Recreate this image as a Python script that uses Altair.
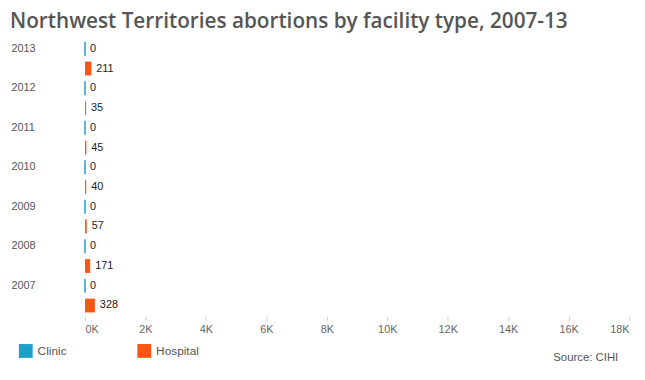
import altair as alt
import pandas as pd

years = ["2013", "2012", "2011", "2010", "2009", "2008", "2007"]
clinic = [0, 0, 0, 0, 0, 0, 0]
hospital = [211, 35, 45, 40, 57, 171, 328]
types = ["Clinic", "Hospital"]
colors = ["#1ba1c9", "#ff5512"]
x_ticks = [0, 2000, 4000, 6000, 8000, 10000, 12000, 14000, 16000, 18000]

rows = []
for y, c, h in zip(years, clinic, hospital):
    rows.append({"year": y, "type": "Clinic", "value": c})
    rows.append({"year": y, "type": "Hospital", "value": h})
df = pd.DataFrame(rows)

FONT = "Liberation Sans"
W, H = 551, 280

base = alt.Chart(df).encode(
    y=alt.Y("year:N", sort=years, title=None,
            scale=alt.Scale(paddingInner=0, paddingOuter=0),
            axis=alt.Axis(ticks=False, domain=False, labelAlign="left",
                          labelPadding=75, labelOffset=-10, labelFontSize=11,
                          labelColor="#555555", labelFont=FONT,
                          labelBaseline="middle")),
    yOffset=alt.YOffset("type:N", sort=types,
                        scale=alt.Scale(paddingInner=0.3, paddingOuter=0.15)),
)

bars = base.mark_bar().encode(
    x=alt.X("value:Q", title=None,
            scale=alt.Scale(domain=[0, 18000], nice=False),
            axis=alt.Axis(values=x_ticks, grid=False, domain=False,
                          tickSize=4, tickColor="#cccccc", offset=1,
                          labelExpr="(datum.value/1000) + 'K'",
                          labelFontSize=11, labelColor="#666666",
                          labelFont=FONT, labelPadding=3)),
    color=alt.Color("type:N", sort=types,
                    scale=alt.Scale(domain=types, range=colors),
                    legend=alt.Legend(title=None, orient="none",
                                      legendX=-67, legendY=309,
                                      direction="horizontal",
                                      symbolType="square", symbolSize=196,
                                      symbolStrokeWidth=0,
                                      labelFontSize=12, labelColor="#555555",
                                      labelFont=FONT, labelOffset=5,
                                      columnPadding=71)),
    stroke=alt.Stroke("type:N", sort=types,
                      scale=alt.Scale(domain=types, range=colors),
                      legend=None),
    strokeWidth=alt.condition("datum.value == 0", alt.value(1), alt.value(0)),
)

labels = base.mark_text(align="left", baseline="middle", dx=5,
                        fontSize=11, color="#222222", font=FONT).encode(
    x="value:Q",
    text="value:Q",
)

source_df = pd.DataFrame({"t": ["Source: CIHI"]})
source = alt.Chart(source_df).mark_text(
    align="right", baseline="middle", fontSize=11.5, color="#555555", font=FONT
).encode(text="t:N", x=alt.value(540), y=alt.value(323))

chart = alt.layer(bars, labels, source).properties(
    width=W, height=H,
    autosize=alt.AutoSizeParams(type="none"),
    padding={"left": 78, "top": 29, "right": 8, "bottom": 55},
    title=alt.Title("Northwest Territories abortions by facility type, 2007-13",
                    anchor="start", frame="group", dx=-76, offset=7,
                    fontSize=21, font="Open Sans", fontWeight=600,
                    color="#555555"),
).configure_view(stroke=None)

chart.save("out.html", embed_options={"renderer": "svg", "actions": False})
